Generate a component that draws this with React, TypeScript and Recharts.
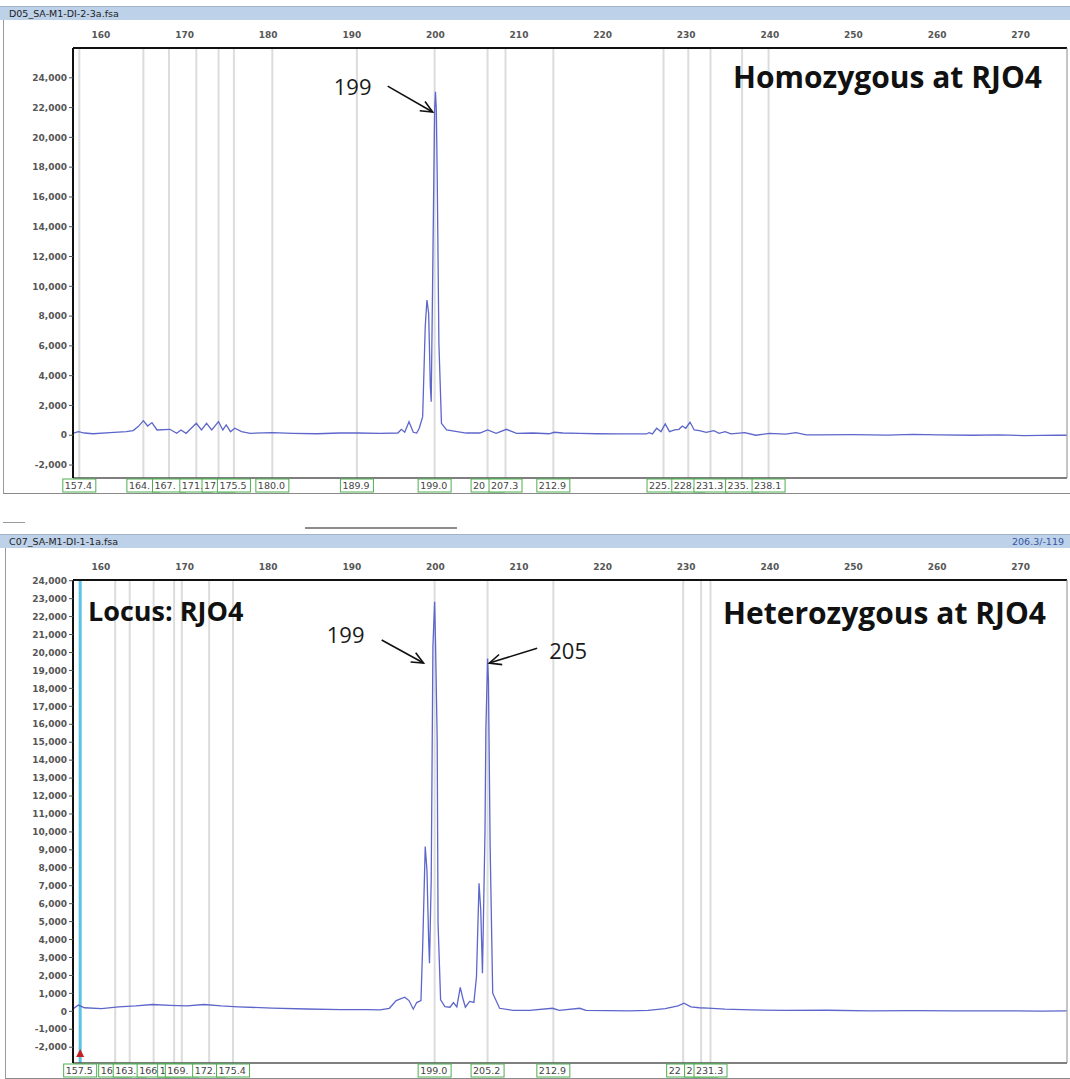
import { LineChart, Line, XAxis, YAxis, ReferenceLine, ReferenceDot } from 'recharts';

// fragment size (bp) ruler along the top of each panel
const sizeTicks = [160, 170, 180, 190, 200, 210, 220, 230, 240, 250, 260, 270];
const sizeDomain: [number, number] = [156.66, 273.04];
const PLOT_LEFT = 73;
const PLOT_W = 995;
// the ruler is drawn slightly compressed relative to the trace (8.37 px/bp vs 8.55)
const RULER_SQUEEZE = 0.979;

// D05 trace: homozygous sample
const topSizes = [
  156.7, 157.3, 158.0, 159.0, 161.0, 162.9, 163.7, 164.3, 164.9, 165.4, 165.9, 166.5, 168.0, 168.8, 169.3,
  169.9, 170.5, 171.1, 171.7, 172.3, 172.9, 173.7, 174.2, 174.6, 175.1, 175.6, 176.4, 177.4, 180.0, 182.4,
  185.2, 187.9, 190.0, 192.6, 194.7, 195.1, 195.5, 196.0, 196.5, 196.9, 197.2, 197.6, 197.9, 198.1, 198.3,
  198.5, 198.6, 198.9, 199.0, 199.1, 199.2, 199.3, 199.5, 199.8, 200.4, 201.1, 202.7, 204.3, 205.2, 206.2,
  207.4, 208.6, 210.5, 212.4, 213.0, 214.0, 216.0, 218.0, 220.6, 223.8, 224.1, 224.5, 225.0, 225.5, 226.0,
  226.5, 227.1, 227.6, 228.0, 228.4, 228.9, 229.4, 230.0, 230.8, 231.7, 232.3, 233.0, 233.7, 235.3, 236.6,
  238.2, 240.1, 241.3, 242.5, 244.0, 248.0, 252.0, 255.0, 258.0, 262.0, 265.0, 268.0, 272.0, 273.0,
];
const topRfu = [
  150, 240, 150, 100, 175, 240, 310, 580, 980, 620, 850, 355, 400, 130, 355,
  130, 470, 800, 355, 800, 355, 910, 355, 690, 240, 470, 240, 130, 175, 130,
  100, 150, 150, 130, 150, 400, 200, 910, 200, 150, 470, 1250, 7290, 9080, 8190,
  3260, 2250, 16900, 21830, 23060, 21830, 17580, 6170, 800, 355, 300, 150, 150, 355, 130,
  400, 130, 150, 100, 200, 150, 120, 100, 87, 87, 175, 87, 470, 240, 760,
  240, 355, 400, 620, 470, 870, 355, 310, 200, 310, 130, 240, 87, 175, 0,
  130, 70, 175, 20, 20, 40, 10, 60, 20, 0, 30, -20, 10, 0,
];

// C07 trace: heterozygous sample
const bottomSizes = [
  156.7, 157.3, 158.0, 160.0, 162.0, 164.0, 166.0, 168.0, 170.0, 172.0, 174.0, 176.0, 180.0, 184.0, 188.0,
  191.0, 192.6, 193.7, 194.5, 195.5, 196.0, 196.5, 196.9, 197.4, 197.6, 197.9, 198.1, 198.3, 198.4, 198.6,
  198.8, 199.0, 199.1, 199.3, 199.4, 199.7, 200.2, 200.8, 201.2, 201.6, 202.0, 202.3, 202.6, 203.1, 203.6,
  203.9, 204.2, 204.4, 204.6, 204.9, 205.0, 205.2, 205.3, 205.5, 205.8, 206.6, 208.2, 210.1, 212.8, 213.6,
  216.0, 216.7, 221.8, 224.0, 226.0, 227.5, 228.2, 229.0, 230.0, 231.0, 233.0, 236.0, 240.0, 245.0, 250.0,
  255.0, 260.0, 265.0, 270.0, 273.0,
];
const bottomRfu = [
  150, 350, 200, 150, 250, 300, 380, 330, 300, 380, 300, 250, 180, 130, 100,
  90, 80, 170, 600, 790, 600, 120, 490, 600, 3600, 9180, 7880, 3980, 2680, 7320,
  20320, 22830, 20690, 15120, 4910, 640, 260, 230, 490, 250, 1340, 730, 230, 550, 500,
  1930, 7140, 5650, 2120, 10100, 15670, 19670, 18460, 9180, 1010, 170, 50, 50, 170, 50,
  170, 50, 20, 50, 150, 300, 450, 250, 200, 180, 120, 80, 50, 60, 30,
  40, 20, 30, 10, 20,
];

// allele bins shown under each panel
const topBins = [157.4, 164.9, 167.9, 171.1, 173.7, 175.5, 180.0, 189.9, 199.0, 205.2, 207.3, 212.9, 225.8, 228.7, 231.3, 235.0, 238.1];
const bottomBins = [157.5, 161.6, 163.3, 166.1, 168.5, 169.4, 172.6, 175.4, 199.0, 205.2, 212.9, 228.1, 230.2, 231.3];
const cursorSize = 157.5;

const topRfuTicks = [-2000, 0, 2000, 4000, 6000, 8000, 10000, 12000, 14000, 16000, 18000, 20000, 22000, 24000];
const bottomRfuTicks = [
  -2000, -1000, 0, 1000, 2000, 3000, 4000, 5000, 6000, 7000, 8000, 9000, 10000, 11000, 12000, 13000, 14000,
  15000, 16000, 17000, 18000, 19000, 20000, 21000, 22000, 23000, 24000,
];

const zip = (sizes: number[], rfu: number[]) => sizes.map((bp, i) => ({ bp, rfu: rfu[i] }));

const TRACE = '#5d66ca';
const axisFont = { fontSize: 9, fontWeight: 700, fill: '#565656', fontFamily: 'DejaVu Sans' };
const tagFont = { fontSize: 9.5, fill: '#444', fontFamily: 'DejaVu Sans' };
const TAG_W = 33;

// rough DejaVu Sans 9.5px advance widths
const textWidth = (s: string) => s.split('').reduce((w, ch) => w + (ch === '.' ? 3 : 6), 0);

function RulerTick(props: any) {
  const { x, y, payload } = props;
  const rx = PLOT_LEFT + (x - PLOT_LEFT) * RULER_SQUEEZE;
  return (
    <text x={rx} y={y} textAnchor="middle" {...axisFont}>
      {payload.value}
    </text>
  );
}

function BinTag(props: any) {
  const { x, y, payload, index, bins } = props;
  const pxPerBp = PLOT_W / (sizeDomain[1] - sizeDomain[0]);
  const next = bins[index + 1];
  const room = next === undefined ? TAG_W : Math.min(TAG_W, (next - payload.value) * pxPerBp);
  let label = payload.value.toFixed(1);
  while (label.length > 1 && textWidth(label) > room - 1) label = label.slice(0, -1);
  return (
    <g>
      <rect x={x - TAG_W / 2} y={y + 1} width={TAG_W} height={13} fill="#fff" stroke="#4caf50" strokeWidth={1} />
      <text x={x - TAG_W / 2 + 2} y={y + 11} textAnchor="start" {...tagFont}>
        {label}
      </text>
    </g>
  );
}

function Arrow(props: any) {
  const { x1, y1, x2, y2, text, dx, dy } = props;
  const ang = Math.atan2(y2 - y1, x2 - x1);
  const len = 13;
  const a1 = ang + Math.PI - 0.42;
  const a2 = ang + Math.PI + 0.42;
  return (
    <g>
      <line x1={x1} y1={y1} x2={x2} y2={y2} stroke="#111" strokeWidth={1.6} />
      <polyline
        points={`${x2 + len * Math.cos(a1)},${y2 + len * Math.sin(a1)} ${x2},${y2} ${x2 + len * Math.cos(a2)},${y2 + len * Math.sin(a2)}`}
        fill="none"
        stroke="#111"
        strokeWidth={1.6}
      />
      <text x={x1 + dx} y={y1 + dy} textAnchor="middle" dominantBaseline="central" fontSize={22} fontFamily="Open Sans" fill="#1a1a1a">
        {text}
      </text>
    </g>
  );
}

function Triangle(props: any) {
  const { cx, cy } = props;
  return <polygon points={`${cx - 4},${cy + 4} ${cx + 4},${cy + 4} ${cx},${cy - 4}`} fill="#c62020" />;
}

type Callout = { from: [number, number]; to: [number, number]; text: string; dx: number; dy: number };

function Panel(props: {
  sizes: number[];
  rfu: number[];
  rfuTicks: number[];
  rfuDomain: [number, number];
  bins: number[];
  height: number;
  axisHeight: number;
  callouts: Callout[];
  cursor?: number;
}) {
  const { sizes, rfu, rfuTicks, rfuDomain, bins, height, axisHeight, callouts, cursor } = props;
  return (
    <LineChart width={1070} height={height} data={zip(sizes, rfu)} margin={{ top: 0, right: 2, bottom: 1, left: 8 }}>
      <XAxis
        xAxisId="size"
        dataKey="bp"
        type="number"
        orientation="top"
        domain={sizeDomain}
        allowDataOverflow
        ticks={sizeTicks}
        interval={0}
        height={axisHeight}
        tickLine={false}
        tickMargin={4}
        tick={<RulerTick />}
        axisLine={{ stroke: '#111', strokeWidth: 2 }}
      />
      <XAxis
        xAxisId="bins"
        dataKey="bp"
        type="number"
        orientation="bottom"
        domain={sizeDomain}
        allowDataOverflow
        ticks={bins}
        interval={0}
        height={15}
        tickSize={0}
        tickMargin={0}
        tick={(p: any) => <BinTag {...p} bins={bins} />}
        axisLine={{ stroke: '#555', strokeWidth: 1.5 }}
      />
      <YAxis
        yAxisId="rfu"
        type="number"
        domain={rfuDomain}
        allowDataOverflow
        ticks={rfuTicks}
        interval={0}
        width={65}
        tickSize={4}
        tickMargin={2}
        tick={axisFont}
        tickLine={{ stroke: '#555' }}
        tickFormatter={(v: number) => v.toLocaleString('en-US')}
        axisLine={{ stroke: '#111', strokeWidth: 2 }}
      />
      <YAxis yAxisId="edge" orientation="right" width={1} tick={false} tickLine={false} axisLine={{ stroke: '#8a8a8a' }} />
      {bins.map((b) => (
        <ReferenceLine key={b} xAxisId="size" yAxisId="rfu" x={b} stroke="#dcdcdc" strokeWidth={2} />
      ))}
      {cursor !== undefined && (
        <ReferenceLine xAxisId="size" yAxisId="rfu" x={cursor} stroke="#5cc3e6" strokeWidth={3} />
      )}
      {cursor !== undefined && (
        <ReferenceDot xAxisId="size" yAxisId="rfu" x={cursor} y={rfuDomain[0] + 560} r={4} shape={<Triangle />} />
      )}
      <Line
        xAxisId="size"
        yAxisId="rfu"
        dataKey="rfu"
        type="linear"
        dot={false}
        stroke={TRACE}
        strokeWidth={1.3}
        isAnimationActive={false}
      />
      {callouts.map((c) => (
        <ReferenceLine
          key={c.text}
          xAxisId="size"
          yAxisId="rfu"
          segment={[
            { x: c.from[0], y: c.from[1] },
            { x: c.to[0], y: c.to[1] },
          ]}
          ifOverflow="visible"
          shape={(p: any) => <Arrow {...p} text={c.text} dx={c.dx} dy={c.dy} />}
        />
      ))}
    </LineChart>
  );
}

const headerBar = {
  position: 'absolute' as const,
  left: 0,
  width: 1070,
  height: 14,
  background: '#bdd1e9',
  borderTop: '1px solid #9fb3c9',
  fontFamily: 'DejaVu Sans',
  fontSize: 9.5,
  color: '#1e1e1e',
  lineHeight: '14px',
  boxSizing: 'border-box' as const,
  paddingLeft: 9,
};

const title = {
  position: 'absolute' as const,
  fontFamily: 'Open Sans',
  fontWeight: 700,
  fontSize: 30,
  lineHeight: '36px',
  color: '#111',
  whiteSpace: 'nowrap' as const,
};

export default function App() {
  return (
    <div style={{ position: 'absolute', left: 0, top: 0, width: 1070, height: 1079, background: '#fff', overflow: 'hidden' }}>
      <div style={{ ...headerBar, top: 6 }}>D05_SA-M1-DI-2-3a.fsa</div>
      <div style={{ position: 'absolute', left: 3, top: 20, width: 1067, height: 473, borderLeft: '1px solid #9a9a9a', borderBottom: '1px solid #8a8a8a' }} />
      <div style={{ position: 'absolute', left: 0, top: 20 }}>
        <Panel
          sizes={topSizes}
          rfu={topRfu}
          rfuTicks={topRfuTicks}
          rfuDomain={[-2870, 26000]}
          bins={topBins}
          height={474}
          axisHeight={28}
          callouts={[{ from: [193.5, 23440], to: [198.77, 21700], text: '199', dx: -35, dy: 0 }]}
        />
      </div>
      <div style={{ ...title, left: 733, top: 59 }}>Homozygous at RJO4</div>

      <div style={{ position: 'absolute', left: 3, top: 522, width: 22, borderTop: '1px solid #9a9a9a' }} />
      <div style={{ position: 'absolute', left: 305, top: 527, width: 152, borderTop: '2px solid #8c8c8c' }} />
      <div style={{ ...headerBar, top: 534 }}>
        C07_SA-M1-DI-1-1a.fsa
        <span style={{ position: 'absolute', right: 6, top: 0, color: '#3556a6' }}>206.3/-119</span>
      </div>
      <div style={{ position: 'absolute', left: 5, top: 548, width: 1065, height: 530, borderLeft: '1px solid #9a9a9a', borderBottom: '1px solid #8a8a8a' }} />
      <div style={{ position: 'absolute', left: 0, top: 550 }}>
        <Panel
          sizes={bottomSizes}
          rfu={bottomRfu}
          rfuTicks={bottomRfuTicks}
          rfuDomain={[-2880, 24040]}
          bins={bottomBins}
          height={529}
          axisHeight={30}
          cursor={cursorSize}
          callouts={[
            { from: [192.8, 20700], to: [197.7, 19410], text: '199', dx: -36, dy: -6 },
            { from: [211.0, 20240], to: [205.4, 19410], text: '205', dx: 31, dy: 2 },
          ]}
        />
      </div>
      <div style={{ ...title, left: 88, top: 594, fontSize: 27, lineHeight: '34px' }}>Locus: RJO4</div>
      <div style={{ ...title, left: 723, top: 595 }}>Heterozygous at RJO4</div>
    </div>
  );
}
